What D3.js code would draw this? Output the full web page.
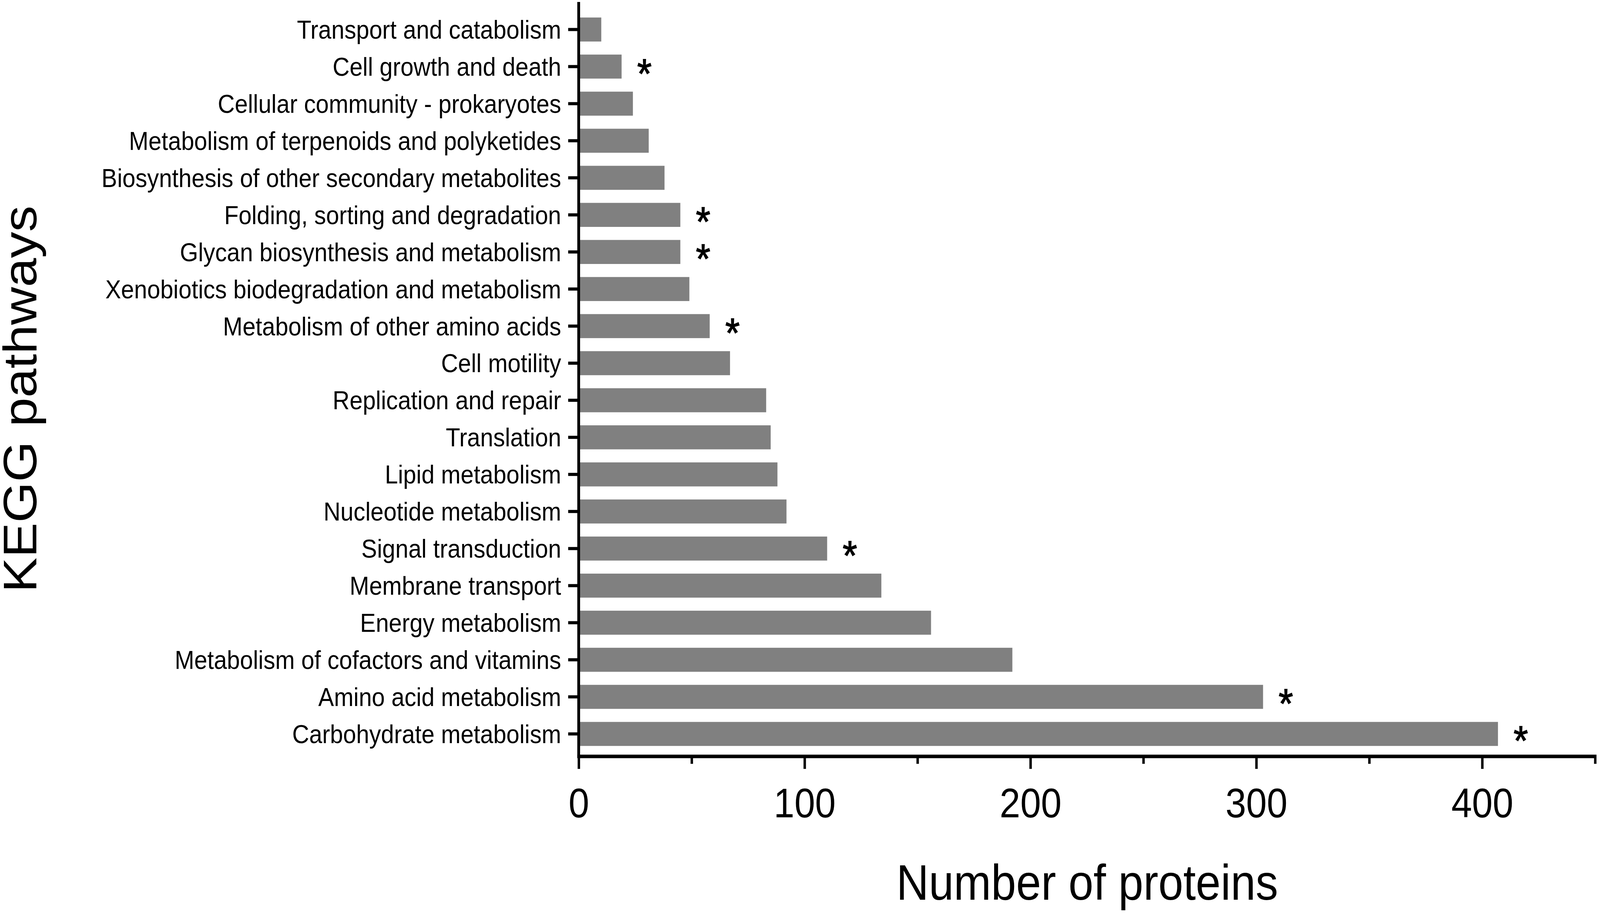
<!DOCTYPE html>
<html>
<head>
<meta charset="utf-8">
<script src="https://cdn.jsdelivr.net/npm/d3@7"></script>
<style>
  html, body { margin: 0; padding: 0; background: #ffffff; width: 100%; height: 100%; overflow: hidden; }
  svg { display: block; }
  text { font-family: "Liberation Sans", Arial, sans-serif; fill: #000; }
</style>
</head>
<body>
<script>
const categories = [
  "Transport and catabolism",
  "Cell growth and death",
  "Cellular community - prokaryotes",
  "Metabolism of terpenoids and polyketides",
  "Biosynthesis of other secondary metabolites",
  "Folding, sorting and degradation",
  "Glycan biosynthesis and metabolism",
  "Xenobiotics biodegradation and metabolism",
  "Metabolism of other amino acids",
  "Cell motility",
  "Replication and repair",
  "Translation",
  "Lipid metabolism",
  "Nucleotide metabolism",
  "Signal transduction",
  "Membrane transport",
  "Energy metabolism",
  "Metabolism of cofactors and vitamins",
  "Amino acid metabolism",
  "Carbohydrate metabolism"
];
const values = [10, 19, 24, 31, 38, 45, 45, 49, 58, 67, 83, 85, 88, 92, 110, 134, 156, 192, 303, 407];
const significant = [false, true, false, false, false, true, true, false, true, false, false, false, false, false, true, false, false, false, true, true];
const majorTicks = [0, 100, 200, 300, 400];
const minorTicks = [50, 150, 250, 350, 450];
const xTitle = "Number of proteins";
const yTitle = "KEGG pathways";

const W = 4562, H = 2338;
const svg = d3.select("body").append("svg")
  .attr("width", "100%").attr("height", "100%")
  .attr("viewBox", `0 0 ${W} ${H}`)
  .attr("preserveAspectRatio", "none");
svg.append("rect").attr("width", W).attr("height", H).attr("fill", "#fff");

const x0 = 1650, x1 = 4548, axisY = 1937, axisTop = 5;
const x = d3.scaleLinear().domain([0, 450]).range([x0, x1]);
const y = d3.scaleBand().domain(categories).range([28.1, 1926.9]).paddingInner(0.352).paddingOuter(0.176);

const data = categories.map((c, i) => ({ c, v: values[i], s: significant[i] }));

// bars
svg.append("g").selectAll("rect").data(data).join("rect")
  .attr("x", x(0))
  .attr("y", d => y(d.c))
  .attr("width", d => x(d.v) - x(0))
  .attr("height", y.bandwidth())
  .attr("fill", "#808080");

// asterisks
svg.append("g").selectAll("text").data(data.filter(d => d.s)).join("text")
  .attr("x", d => x(d.v) + 65)
  .attr("y", d => y(d.c) + y.bandwidth() / 2 + 54)
  .attr("text-anchor", "middle")
  .attr("font-size", 106)
  .attr("stroke", "#000")
  .attr("stroke-width", 2)
  .text("*");

// y axis (categories)
const yAxis = svg.append("g").attr("transform", `translate(${x0},0)`)
  .call(d3.axisLeft(y).tickSize(30).tickSizeOuter(0).tickPadding(20));
yAxis.select(".domain").remove();
yAxis.selectAll(".tick line").attr("stroke", "#000").attr("stroke-width", 8);
yAxis.selectAll(".tick text")
  .attr("font-size", 67)
  .attr("font-family", "'Liberation Sans', Arial, sans-serif")
  .attr("fill", "#000")
  .attr("x", -50)
  .attr("dy", "0.35em");

svg.append("line")
  .attr("x1", x0).attr("x2", x0)
  .attr("y1", axisTop).attr("y2", axisY + 4)
  .attr("stroke", "#000").attr("stroke-width", 8);

// x axis
const xMajor = svg.append("g").attr("transform", `translate(0,${axisY})`)
  .call(d3.axisBottom(x).tickValues(majorTicks).tickSize(32).tickSizeOuter(0).tickFormat(d3.format("d")));
xMajor.select(".domain").remove();
xMajor.selectAll(".tick line").attr("stroke", "#000").attr("stroke-width", 7);
xMajor.selectAll(".tick text")
  .attr("font-size", 106)
  .attr("font-family", "'Liberation Sans', Arial, sans-serif")
  .attr("fill", "#000")
  .attr("y", 156)
  .attr("dy", null);

const xMinor = svg.append("g").attr("transform", `translate(0,${axisY})`)
  .call(d3.axisBottom(x).tickValues(minorTicks).tickSize(19).tickSizeOuter(0).tickFormat(""));
xMinor.select(".domain").remove();
xMinor.selectAll(".tick line").attr("stroke", "#000").attr("stroke-width", 7);

svg.append("line")
  .attr("x1", x0 - 4).attr("x2", x1 + 4)
  .attr("y1", axisY).attr("y2", axisY)
  .attr("stroke", "#000").attr("stroke-width", 9);

// titles
svg.append("text")
  .attr("x", 3100).attr("y", 2304)
  .attr("text-anchor", "middle")
  .attr("font-size", 128)
  .text(xTitle);

svg.append("text")
  .attr("transform", "translate(104,1022) rotate(-90)")
  .attr("text-anchor", "middle")
  .attr("font-size", 134)
  .text(yTitle);
</script>
</body>
</html>
